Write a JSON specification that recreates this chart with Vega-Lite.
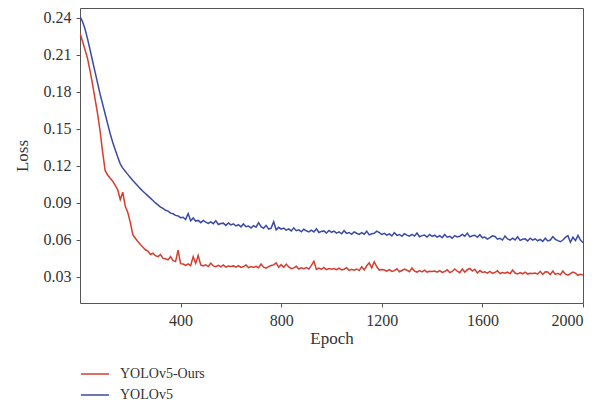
{
  "$schema": "https://vega.github.io/schema/vega-lite/v6.json",
  "width": 503,
  "height": 295,
  "autosize": {"type": "none"},
  "padding": {"left": 80, "top": 8, "right": 33, "bottom": 102},
  "background": "white",
  "config": {
    "view": {"stroke": "#555555", "strokeWidth": 1},
    "font": "Liberation Serif",
    "axis": {"grid": false, "domain": false, "tickColor": "#555555", "tickSize": 4, "labelColor": "#333333", "titleColor": "#333333", "labelFont": "Liberation Serif", "titleFont": "Liberation Serif", "titleFontWeight": "normal"},
    "legend": {"labelFont": "Liberation Serif", "labelColor": "#333333"}
  },
  "data": {"values": [
    {"e":0,"YOLOv5-Ours":0.2275,"YOLOv5":0.2410},
    {"e":10,"YOLOv5-Ours":0.2210,"YOLOv5":0.2370},
    {"e":20,"YOLOv5-Ours":0.2140,"YOLOv5":0.2310},
    {"e":30,"YOLOv5-Ours":0.2070,"YOLOv5":0.2230},
    {"e":40,"YOLOv5-Ours":0.1970,"YOLOv5":0.2140},
    {"e":50,"YOLOv5-Ours":0.1860,"YOLOv5":0.2050},
    {"e":60,"YOLOv5-Ours":0.1740,"YOLOv5":0.1960},
    {"e":70,"YOLOv5-Ours":0.1620,"YOLOv5":0.1870},
    {"e":80,"YOLOv5-Ours":0.1480,"YOLOv5":0.1780},
    {"e":90,"YOLOv5-Ours":0.1310,"YOLOv5":0.1700},
    {"e":100,"YOLOv5-Ours":0.1160,"YOLOv5":0.1620},
    {"e":110,"YOLOv5-Ours":0.1125,"YOLOv5":0.1540},
    {"e":120,"YOLOv5-Ours":0.1098,"YOLOv5":0.1460},
    {"e":130,"YOLOv5-Ours":0.1075,"YOLOv5":0.1390},
    {"e":140,"YOLOv5-Ours":0.1040,"YOLOv5":0.1330},
    {"e":150,"YOLOv5-Ours":0.1005,"YOLOv5":0.1270},
    {"e":160,"YOLOv5-Ours":0.0925,"YOLOv5":0.1215},
    {"e":170,"YOLOv5-Ours":0.0985,"YOLOv5":0.1180},
    {"e":180,"YOLOv5-Ours":0.0870,"YOLOv5":0.1155},
    {"e":190,"YOLOv5-Ours":0.0820,"YOLOv5":0.1130},
    {"e":200,"YOLOv5-Ours":0.0740,"YOLOv5":0.1105},
    {"e":210,"YOLOv5-Ours":0.0640,"YOLOv5":0.1080},
    {"e":220,"YOLOv5-Ours":0.0612,"YOLOv5":0.1058},
    {"e":230,"YOLOv5-Ours":0.0585,"YOLOv5":0.1036},
    {"e":240,"YOLOv5-Ours":0.0560,"YOLOv5":0.1014},
    {"e":250,"YOLOv5-Ours":0.0540,"YOLOv5":0.0993},
    {"e":260,"YOLOv5-Ours":0.0518,"YOLOv5":0.0974},
    {"e":270,"YOLOv5-Ours":0.0508,"YOLOv5":0.0955},
    {"e":280,"YOLOv5-Ours":0.0480,"YOLOv5":0.0937},
    {"e":290,"YOLOv5-Ours":0.0490,"YOLOv5":0.0918},
    {"e":300,"YOLOv5-Ours":0.0470,"YOLOv5":0.0898},
    {"e":310,"YOLOv5-Ours":0.0462,"YOLOv5":0.0882},
    {"e":320,"YOLOv5-Ours":0.0478,"YOLOv5":0.0864},
    {"e":330,"YOLOv5-Ours":0.0448,"YOLOv5":0.0854},
    {"e":340,"YOLOv5-Ours":0.0445,"YOLOv5":0.0838},
    {"e":350,"YOLOv5-Ours":0.0436,"YOLOv5":0.0832},
    {"e":360,"YOLOv5-Ours":0.0462,"YOLOv5":0.0815},
    {"e":370,"YOLOv5-Ours":0.0430,"YOLOv5":0.0810},
    {"e":380,"YOLOv5-Ours":0.0422,"YOLOv5":0.0797},
    {"e":390,"YOLOv5-Ours":0.0514,"YOLOv5":0.0792},
    {"e":400,"YOLOv5-Ours":0.0405,"YOLOv5":0.0778},
    {"e":410,"YOLOv5-Ours":0.0402,"YOLOv5":0.0782},
    {"e":420,"YOLOv5-Ours":0.0392,"YOLOv5":0.0763},
    {"e":430,"YOLOv5-Ours":0.0404,"YOLOv5":0.0812},
    {"e":440,"YOLOv5-Ours":0.0389,"YOLOv5":0.0753},
    {"e":450,"YOLOv5-Ours":0.0462,"YOLOv5":0.0776},
    {"e":460,"YOLOv5-Ours":0.0408,"YOLOv5":0.0751},
    {"e":470,"YOLOv5-Ours":0.0472,"YOLOv5":0.0756},
    {"e":480,"YOLOv5-Ours":0.0394,"YOLOv5":0.0738},
    {"e":490,"YOLOv5-Ours":0.0386,"YOLOv5":0.0756},
    {"e":500,"YOLOv5-Ours":0.0395,"YOLOv5":0.0742},
    {"e":510,"YOLOv5-Ours":0.0382,"YOLOv5":0.0732},
    {"e":520,"YOLOv5-Ours":0.0410,"YOLOv5":0.0745},
    {"e":530,"YOLOv5-Ours":0.0387,"YOLOv5":0.0730},
    {"e":540,"YOLOv5-Ours":0.0380,"YOLOv5":0.0754},
    {"e":550,"YOLOv5-Ours":0.0391,"YOLOv5":0.0723},
    {"e":560,"YOLOv5-Ours":0.0380,"YOLOv5":0.0731},
    {"e":570,"YOLOv5-Ours":0.0395,"YOLOv5":0.0734},
    {"e":580,"YOLOv5-Ours":0.0378,"YOLOv5":0.0716},
    {"e":590,"YOLOv5-Ours":0.0386,"YOLOv5":0.0736},
    {"e":600,"YOLOv5-Ours":0.0382,"YOLOv5":0.0720},
    {"e":610,"YOLOv5-Ours":0.0387,"YOLOv5":0.0728},
    {"e":620,"YOLOv5-Ours":0.0377,"YOLOv5":0.0711},
    {"e":630,"YOLOv5-Ours":0.0390,"YOLOv5":0.0721},
    {"e":640,"YOLOv5-Ours":0.0375,"YOLOv5":0.0704},
    {"e":650,"YOLOv5-Ours":0.0382,"YOLOv5":0.0728},
    {"e":660,"YOLOv5-Ours":0.0395,"YOLOv5":0.0705},
    {"e":670,"YOLOv5-Ours":0.0373,"YOLOv5":0.0711},
    {"e":680,"YOLOv5-Ours":0.0382,"YOLOv5":0.0695},
    {"e":690,"YOLOv5-Ours":0.0375,"YOLOv5":0.0714},
    {"e":700,"YOLOv5-Ours":0.0384,"YOLOv5":0.0702},
    {"e":710,"YOLOv5-Ours":0.0372,"YOLOv5":0.0738},
    {"e":720,"YOLOv5-Ours":0.0402,"YOLOv5":0.0706},
    {"e":730,"YOLOv5-Ours":0.0377,"YOLOv5":0.0692},
    {"e":740,"YOLOv5-Ours":0.0369,"YOLOv5":0.0716},
    {"e":750,"YOLOv5-Ours":0.0381,"YOLOv5":0.0686},
    {"e":760,"YOLOv5-Ours":0.0390,"YOLOv5":0.0694},
    {"e":770,"YOLOv5-Ours":0.0395,"YOLOv5":0.0745},
    {"e":780,"YOLOv5-Ours":0.0412,"YOLOv5":0.0680},
    {"e":790,"YOLOv5-Ours":0.0376,"YOLOv5":0.0700},
    {"e":800,"YOLOv5-Ours":0.0397,"YOLOv5":0.0685},
    {"e":810,"YOLOv5-Ours":0.0376,"YOLOv5":0.0694},
    {"e":820,"YOLOv5-Ours":0.0402,"YOLOv5":0.0677},
    {"e":830,"YOLOv5-Ours":0.0379,"YOLOv5":0.0688},
    {"e":840,"YOLOv5-Ours":0.0365,"YOLOv5":0.0671},
    {"e":850,"YOLOv5-Ours":0.0371,"YOLOv5":0.0696},
    {"e":860,"YOLOv5-Ours":0.0384,"YOLOv5":0.0673},
    {"e":870,"YOLOv5-Ours":0.0362,"YOLOv5":0.0680},
    {"e":880,"YOLOv5-Ours":0.0371,"YOLOv5":0.0664},
    {"e":890,"YOLOv5-Ours":0.0364,"YOLOv5":0.0684},
    {"e":900,"YOLOv5-Ours":0.0373,"YOLOv5":0.0672},
    {"e":910,"YOLOv5-Ours":0.0361,"YOLOv5":0.0663},
    {"e":920,"YOLOv5-Ours":0.0391,"YOLOv5":0.0677},
    {"e":930,"YOLOv5-Ours":0.0424,"YOLOv5":0.0663},
    {"e":940,"YOLOv5-Ours":0.0358,"YOLOv5":0.0688},
    {"e":950,"YOLOv5-Ours":0.0370,"YOLOv5":0.0658},
    {"e":960,"YOLOv5-Ours":0.0359,"YOLOv5":0.0667},
    {"e":970,"YOLOv5-Ours":0.0374,"YOLOv5":0.0671},
    {"e":980,"YOLOv5-Ours":0.0357,"YOLOv5":0.0654},
    {"e":990,"YOLOv5-Ours":0.0365,"YOLOv5":0.0675},
    {"e":1000,"YOLOv5-Ours":0.0361,"YOLOv5":0.0660},
    {"e":1010,"YOLOv5-Ours":0.0365,"YOLOv5":0.0669},
    {"e":1020,"YOLOv5-Ours":0.0356,"YOLOv5":0.0653},
    {"e":1030,"YOLOv5-Ours":0.0368,"YOLOv5":0.0664},
    {"e":1040,"YOLOv5-Ours":0.0354,"YOLOv5":0.0648},
    {"e":1050,"YOLOv5-Ours":0.0360,"YOLOv5":0.0673},
    {"e":1060,"YOLOv5-Ours":0.0373,"YOLOv5":0.0651},
    {"e":1070,"YOLOv5-Ours":0.0351,"YOLOv5":0.0658},
    {"e":1080,"YOLOv5-Ours":0.0360,"YOLOv5":0.0643},
    {"e":1090,"YOLOv5-Ours":0.0353,"YOLOv5":0.0663},
    {"e":1100,"YOLOv5-Ours":0.0362,"YOLOv5":0.0652},
    {"e":1110,"YOLOv5-Ours":0.0349,"YOLOv5":0.0643},
    {"e":1120,"YOLOv5-Ours":0.0380,"YOLOv5":0.0657},
    {"e":1130,"YOLOv5-Ours":0.0354,"YOLOv5":0.0644},
    {"e":1140,"YOLOv5-Ours":0.0388,"YOLOv5":0.0669},
    {"e":1150,"YOLOv5-Ours":0.0412,"YOLOv5":0.0639},
    {"e":1160,"YOLOv5-Ours":0.0371,"YOLOv5":0.0648},
    {"e":1170,"YOLOv5-Ours":0.0421,"YOLOv5":0.0652},
    {"e":1180,"YOLOv5-Ours":0.0380,"YOLOv5":0.0669},
    {"e":1190,"YOLOv5-Ours":0.0353,"YOLOv5":0.0657},
    {"e":1200,"YOLOv5-Ours":0.0357,"YOLOv5":0.0642},
    {"e":1210,"YOLOv5-Ours":0.0354,"YOLOv5":0.0651},
    {"e":1220,"YOLOv5-Ours":0.0344,"YOLOv5":0.0636},
    {"e":1230,"YOLOv5-Ours":0.0357,"YOLOv5":0.0647},
    {"e":1240,"YOLOv5-Ours":0.0342,"YOLOv5":0.0631},
    {"e":1250,"YOLOv5-Ours":0.0349,"YOLOv5":0.0657},
    {"e":1260,"YOLOv5-Ours":0.0363,"YOLOv5":0.0635},
    {"e":1270,"YOLOv5-Ours":0.0340,"YOLOv5":0.0642},
    {"e":1280,"YOLOv5-Ours":0.0350,"YOLOv5":0.0627},
    {"e":1290,"YOLOv5-Ours":0.0362,"YOLOv5":0.0648},
    {"e":1300,"YOLOv5-Ours":0.0352,"YOLOv5":0.0637},
    {"e":1310,"YOLOv5-Ours":0.0340,"YOLOv5":0.0628},
    {"e":1320,"YOLOv5-Ours":0.0370,"YOLOv5":0.0642},
    {"e":1330,"YOLOv5-Ours":0.0345,"YOLOv5":0.0629},
    {"e":1340,"YOLOv5-Ours":0.0337,"YOLOv5":0.0654},
    {"e":1350,"YOLOv5-Ours":0.0349,"YOLOv5":0.0624},
    {"e":1360,"YOLOv5-Ours":0.0339,"YOLOv5":0.0633},
    {"e":1370,"YOLOv5-Ours":0.0353,"YOLOv5":0.0637},
    {"e":1380,"YOLOv5-Ours":0.0337,"YOLOv5":0.0621},
    {"e":1390,"YOLOv5-Ours":0.0344,"YOLOv5":0.0642},
    {"e":1400,"YOLOv5-Ours":0.0341,"YOLOv5":0.0627},
    {"e":1410,"YOLOv5-Ours":0.0346,"YOLOv5":0.0636},
    {"e":1420,"YOLOv5-Ours":0.0336,"YOLOv5":0.0621},
    {"e":1430,"YOLOv5-Ours":0.0349,"YOLOv5":0.0632},
    {"e":1440,"YOLOv5-Ours":0.0334,"YOLOv5":0.0616},
    {"e":1450,"YOLOv5-Ours":0.0341,"YOLOv5":0.0642},
    {"e":1460,"YOLOv5-Ours":0.0355,"YOLOv5":0.0620},
    {"e":1470,"YOLOv5-Ours":0.0332,"YOLOv5":0.0627},
    {"e":1480,"YOLOv5-Ours":0.0342,"YOLOv5":0.0612},
    {"e":1490,"YOLOv5-Ours":0.0362,"YOLOv5":0.0633},
    {"e":1500,"YOLOv5-Ours":0.0344,"YOLOv5":0.0622},
    {"e":1510,"YOLOv5-Ours":0.0332,"YOLOv5":0.0628},
    {"e":1520,"YOLOv5-Ours":0.0362,"YOLOv5":0.0642},
    {"e":1530,"YOLOv5-Ours":0.0337,"YOLOv5":0.0628},
    {"e":1540,"YOLOv5-Ours":0.0356,"YOLOv5":0.0653},
    {"e":1550,"YOLOv5-Ours":0.0366,"YOLOv5":0.0623},
    {"e":1560,"YOLOv5-Ours":0.0345,"YOLOv5":0.0632},
    {"e":1570,"YOLOv5-Ours":0.0360,"YOLOv5":0.0636},
    {"e":1580,"YOLOv5-Ours":0.0330,"YOLOv5":0.0619},
    {"e":1590,"YOLOv5-Ours":0.0349,"YOLOv5":0.0640},
    {"e":1600,"YOLOv5-Ours":0.0334,"YOLOv5":0.0615},
    {"e":1610,"YOLOv5-Ours":0.0339,"YOLOv5":0.0621},
    {"e":1620,"YOLOv5-Ours":0.0329,"YOLOv5":0.0605},
    {"e":1630,"YOLOv5-Ours":0.0342,"YOLOv5":0.0617},
    {"e":1640,"YOLOv5-Ours":0.0327,"YOLOv5":0.0631},
    {"e":1650,"YOLOv5-Ours":0.0334,"YOLOv5":0.0626},
    {"e":1660,"YOLOv5-Ours":0.0347,"YOLOv5":0.0604},
    {"e":1670,"YOLOv5-Ours":0.0325,"YOLOv5":0.0611},
    {"e":1680,"YOLOv5-Ours":0.0334,"YOLOv5":0.0597},
    {"e":1690,"YOLOv5-Ours":0.0327,"YOLOv5":0.0630},
    {"e":1700,"YOLOv5-Ours":0.0336,"YOLOv5":0.0606},
    {"e":1710,"YOLOv5-Ours":0.0324,"YOLOv5":0.0597},
    {"e":1720,"YOLOv5-Ours":0.0354,"YOLOv5":0.0612},
    {"e":1730,"YOLOv5-Ours":0.0329,"YOLOv5":0.0598},
    {"e":1740,"YOLOv5-Ours":0.0321,"YOLOv5":0.0623},
    {"e":1750,"YOLOv5-Ours":0.0333,"YOLOv5":0.0594},
    {"e":1760,"YOLOv5-Ours":0.0323,"YOLOv5":0.0603},
    {"e":1770,"YOLOv5-Ours":0.0337,"YOLOv5":0.0607},
    {"e":1780,"YOLOv5-Ours":0.0321,"YOLOv5":0.0590},
    {"e":1790,"YOLOv5-Ours":0.0328,"YOLOv5":0.0612},
    {"e":1800,"YOLOv5-Ours":0.0325,"YOLOv5":0.0597},
    {"e":1810,"YOLOv5-Ours":0.0330,"YOLOv5":0.0606},
    {"e":1820,"YOLOv5-Ours":0.0320,"YOLOv5":0.0591},
    {"e":1830,"YOLOv5-Ours":0.0343,"YOLOv5":0.0602},
    {"e":1840,"YOLOv5-Ours":0.0318,"YOLOv5":0.0586},
    {"e":1850,"YOLOv5-Ours":0.0340,"YOLOv5":0.0612},
    {"e":1860,"YOLOv5-Ours":0.0338,"YOLOv5":0.0590},
    {"e":1870,"YOLOv5-Ours":0.0316,"YOLOv5":0.0597},
    {"e":1880,"YOLOv5-Ours":0.0345,"YOLOv5":0.0625},
    {"e":1890,"YOLOv5-Ours":0.0318,"YOLOv5":0.0603},
    {"e":1900,"YOLOv5-Ours":0.0327,"YOLOv5":0.0592},
    {"e":1910,"YOLOv5-Ours":0.0315,"YOLOv5":0.0583},
    {"e":1920,"YOLOv5-Ours":0.0345,"YOLOv5":0.0597},
    {"e":1930,"YOLOv5-Ours":0.0320,"YOLOv5":0.0618},
    {"e":1940,"YOLOv5-Ours":0.0312,"YOLOv5":0.0632},
    {"e":1950,"YOLOv5-Ours":0.0324,"YOLOv5":0.0579},
    {"e":1960,"YOLOv5-Ours":0.0337,"YOLOv5":0.0620},
    {"e":1970,"YOLOv5-Ours":0.0328,"YOLOv5":0.0592},
    {"e":1980,"YOLOv5-Ours":0.0311,"YOLOv5":0.0634},
    {"e":1990,"YOLOv5-Ours":0.0319,"YOLOv5":0.0597},
    {"e":2000,"YOLOv5-Ours":0.0312,"YOLOv5":0.0575}
  ]},
  "transform": [{"fold": ["YOLOv5-Ours", "YOLOv5"], "as": ["model", "loss"]}],
  "mark": {"type": "line", "strokeWidth": 1.5, "clip": true},
  "encoding": {
    "x": {"field": "e", "type": "quantitative", "title": "Epoch",
      "scale": {"domain": [0, 2000], "nice": false, "zero": false},
      "axis": {"values": [400, 800, 1200, 1600, 2000], "format": "d", "labelFontSize": 16, "titleFontSize": 17, "labelPadding": 5, "titlePadding": 2}},
    "y": {"field": "loss", "type": "quantitative", "title": "Loss",
      "scale": {"domain": [0.0086, 0.248], "nice": false, "zero": false},
      "axis": {"values": [0.03, 0.06, 0.09, 0.12, 0.15, 0.18, 0.21, 0.24], "format": ".2f", "labelFontSize": 16, "titleFontSize": 17, "labelPadding": 5, "titlePadding": 12}},
    "color": {"field": "model", "type": "nominal",
      "scale": {"domain": ["YOLOv5-Ours", "YOLOv5"], "range": ["#d43d2f", "#3a4aa6"]},
      "legend": {"title": null, "orient": "bottom", "direction": "vertical", "symbolType": "M-1,0L1.55,0", "symbolSize": 484, "symbolStrokeWidth": 1.5, "labelFontSize": 14, "labelOffset": 16, "rowPadding": 2, "offset": 16}}
  }
}
